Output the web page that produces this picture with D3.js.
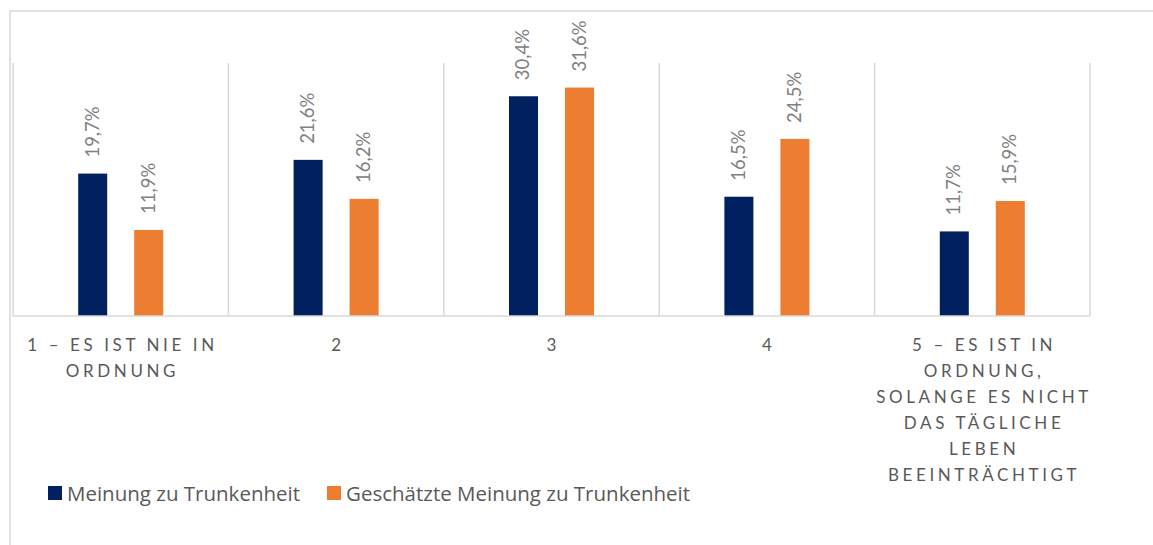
<!DOCTYPE html>
<html>
<head>
<meta charset="utf-8">
<script src="https://cdn.jsdelivr.net/npm/d3@7"></script>
<style>
  body { margin: 0; background: #fff; }
  svg { display: block; }
</style>
</head>
<body>
<div id="chart"></div>
<script>
// data
const categories = ['1', '2', '3', '4', '5']
const categoryLines = [
    ['1 – ES IST NIE IN', 'ORDNUNG'],
    ['2'],
    ['3'],
    ['4'],
    ['5 – ES IST IN', 'ORDNUNG,', 'SOLANGE ES NICHT', 'DAS TÄGLICHE', 'LEBEN', 'BEEINTRÄCHTIGT']
]
const seriesNames = ['Meinung zu Trunkenheit', 'Geschätzte Meinung zu Trunkenheit']
const meinung = [19.7, 21.6, 30.4, 16.5, 11.7]
const geschaetzt = [11.9, 16.2, 31.6, 24.5, 15.9]
const colors = ['#002060', '#ED7D31']

const W = 1153, H = 545
const plot = { left: 13, right: 1090, top: 63, bottom: 316 }

const svg = d3.select('#chart')
    .append('svg')
    .attr('width', W)
    .attr('height', H)

// chart border
svg.append('rect')
    .attr('x', 10).attr('y', 11)
    .attr('width', 1170).attr('height', 560)
    .attr('fill', 'none')
    .attr('stroke', '#d9d9d9')
    .attr('stroke-width', 1.5)

const xScale = d3.scaleBand()
    .domain(categories)
    .range([plot.left, plot.right])
    .padding(0)

const xInner = d3.scaleBand()
    .domain([0, 1])
    .range([0, xScale.bandwidth()])
    .paddingInner(0.482)
    .paddingOuter(1.164)

const yScale = d3.scaleLinear()
    .domain([0, 35])
    .range([plot.bottom, plot.top])

// vertical gridlines between categories
const gridX = categories.map(c => xScale(c)).concat([plot.right])
svg.append('g')
    .selectAll('line')
    .data(gridX)
    .join('line')
    .attr('x1', d => d).attr('x2', d => d)
    .attr('y1', plot.top).attr('y2', plot.bottom)
    .attr('stroke', '#d9d9d9')
    .attr('stroke-width', 1.5)

// bars
const rows = categories.map((c, i) => ({ cat: c, vals: [meinung[i], geschaetzt[i]] }))
const groups = svg.append('g')
    .selectAll('g')
    .data(rows)
    .join('g')
    .attr('transform', d => `translate(${xScale(d.cat)},0)`)

groups.selectAll('rect')
    .data(d => d.vals.map((v, s) => ({ v, s })))
    .join('rect')
    .attr('x', d => xInner(d.s))
    .attr('width', xInner.bandwidth())
    .attr('y', d => yScale(d.v))
    .attr('height', d => plot.bottom - yScale(d.v))
    .attr('fill', d => colors[d.s])

// value labels, rotated
groups.selectAll('text')
    .data(d => d.vals.map((v, s) => ({ v, s })))
    .join('text')
    .attr('transform', d => `translate(${xInner(d.s) + xInner.bandwidth() / 2 + 6},${yScale(d.v) - 16}) rotate(-90)`)
    .attr('text-anchor', 'start')
    .style('font-family', 'Lato, sans-serif')
    .style('font-size', '18.5px')
    .style('fill', '#808080')
    .text(d => d.v.toFixed(1).replace('.', ',') + '%')

// baseline
svg.append('line')
    .attr('x1', plot.left).attr('x2', plot.right)
    .attr('y1', plot.bottom).attr('y2', plot.bottom)
    .attr('stroke', '#d9d9d9')
    .attr('stroke-width', 1.5)

// category labels
const catG = svg.append('g')
    .selectAll('text')
    .data(categories)
    .join('text')
    .attr('x', d => xScale(d) + xScale.bandwidth() / 2)
    .attr('y', 351)
    .attr('text-anchor', 'middle')
    .style('font-family', 'Lato, sans-serif')
    .style('font-size', '17px')
    .style('letter-spacing', '3.6px')
    .style('fill', '#595959')

catG.selectAll('tspan')
    .data((d, i) => categoryLines[i])
    .join('tspan')
    .attr('x', function () { return d3.select(this.parentNode).attr('x') })
    .attr('dx', 1.8)
    .attr('dy', (d, i) => i === 0 ? 0 : 26)
    .text(d => d)

// legend
const legendX = [48, 327]
const legend = svg.append('g')
    .selectAll('g')
    .data(seriesNames)
    .join('g')
    .attr('transform', (d, i) => `translate(${legendX[i]},486)`)
legend.append('rect')
    .attr('width', 14).attr('height', 14)
    .attr('fill', (d, i) => colors[i])
legend.append('text')
    .attr('x', 19).attr('y', 14.5)
    .style('font-family', '"Open Sans", sans-serif')
    .style('font-size', '20.5px')
    .style('fill', '#595959')
    .text(d => d)
</script>
</body>
</html>
